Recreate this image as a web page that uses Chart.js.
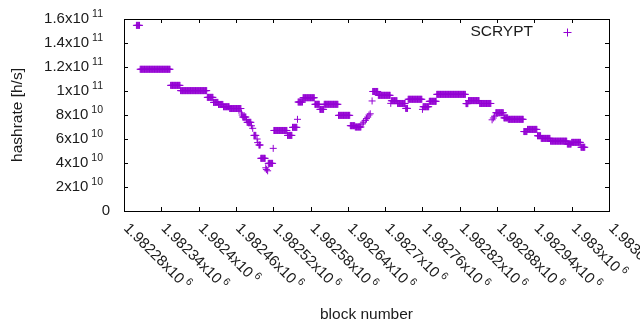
<!DOCTYPE html>
<html>
<head>
<meta charset="utf-8">
<script src="https://cdn.jsdelivr.net/npm/chart.js@4.4.1/dist/chart.umd.min.js"></script>
<style>
    html, body { margin: 0; padding: 0; background: #fff; }
    canvas { display: block; }
</style>
</head>
<body>
<canvas id="hashChart" width="640" height="330"></canvas>
<script>
// Runs of blocks with the same hashrate (block offsets from blockBase)
const blockBase = 1982280;
const runFirst = [20, 26, 75, 91, 134, 144, 152, 160, 170, 189, 190, 191, 197, 198, 205, 207, 209, 214, 215, 217,
    220, 228, 229, 231, 232, 240, 241, 263, 271, 279, 280, 288, 307, 315, 322, 345, 364, 372, 383, 385,
    388, 390, 392, 394, 396, 399, 400, 409, 429, 430, 440, 453, 457, 480, 481, 491, 503, 550, 554, 572,
    592, 594, 596, 598, 611, 618, 643, 649, 665, 671, 686, 713, 720, 735];
const runLast = [25, 74, 90, 133, 143, 151, 159, 169, 188, 189, 190, 196, 197, 204, 205, 207, 212, 214, 215, 219,
    227, 228, 229, 231, 239, 240, 262, 270, 278, 279, 287, 306, 314, 321, 344, 363, 371, 381, 383, 385,
    388, 390, 392, 394, 396, 399, 408, 428, 429, 439, 452, 456, 479, 480, 490, 502, 549, 553, 571, 590,
    592, 594, 596, 610, 617, 642, 648, 664, 670, 685, 712, 719, 734, 741];
// hashrate in units of 10^10 h/s
const runHashrate = [15.47, 11.81, 10.47, 10.03, 9.47, 9.05, 8.88, 8.69, 8.54, 8.17, 8.0, 7.83, 7.6, 7.39, 7.1, 6.89, 6.3, 6.0, 5.7, 5.5,
    4.39, 3.6, 3.45, 3.35, 3.97, 5.22, 6.71, 6.3, 6.97, 7.64, 9.08, 9.44, 8.89, 8.47, 8.89, 7.97, 7.11, 7.0, 7.25, 7.4,
    7.55, 7.7, 7.83, 8.0, 8.1, 9.17, 9.96, 9.64, 8.97, 9.19, 8.96, 8.55, 9.31, 8.47, 8.69, 9.14, 9.72, 8.95, 9.2, 8.96,
    7.6, 7.75, 7.9, 8.19, 7.76, 7.64, 6.62, 6.8, 6.27, 6.05, 5.82, 5.58, 5.72, 5.31];

const xTickValues = [1982280, 1982340, 1982400, 1982460, 1982520, 1982580, 1982640,
    1982700, 1982760, 1982820, 1982880, 1982940, 1983000, 1983060];
const yTickValues = [0, 2e10, 4e10, 6e10, 8e10, 1e11, 1.2e11, 1.4e11, 1.6e11];

const seriesName = 'SCRYPT';
const seriesColor = '#9400d3';
const fontFamily = '"Liberation Sans", Arial, sans-serif';

// one point per block
const points = [];
runFirst.forEach((first, i) => {
    for (let b = first; b <= runLast[i]; b++) {
        points.push({ x: blockBase + b, y: runHashrate[i] * 1e10 });
    }
});

// gnuplot style "1.98228x10^6" split into base and exponent
function sciParts(v) {
    if (v === 0) return ['0', ''];
    const exp = Math.floor(Math.log10(v) + 1e-9);
    const mant = parseFloat((v / Math.pow(10, exp)).toPrecision(6));
    return [mant + 'x10', String(exp)];
}

const frame = {
    id: 'gnuplotFrame',
    afterDatasetsDraw(chart) {
        const ctx = chart.ctx;
        const a = chart.chartArea;
        const xs = chart.scales.x, ys = chart.scales.y;
        ctx.save();
        ctx.strokeStyle = '#000';
        ctx.lineWidth = 1;
        ctx.beginPath();
        xTickValues.forEach(v => {
            const px = Math.round(xs.getPixelForValue(v)) + 0.5;
            ctx.moveTo(px, a.bottom); ctx.lineTo(px, a.bottom - 4);
            ctx.moveTo(px, a.top); ctx.lineTo(px, a.top + 4);
        });
        yTickValues.forEach(v => {
            const py = Math.round(ys.getPixelForValue(v)) + 0.5;
            ctx.moveTo(a.left, py); ctx.lineTo(a.left + 4, py);
            ctx.moveTo(a.right, py); ctx.lineTo(a.right - 4, py);
        });
        ctx.stroke();
        ctx.strokeRect(a.left + 0.5, a.top + 0.5, a.right - a.left, a.bottom - a.top);
        ctx.restore();
    },
    afterDraw(chart) {
        const ctx = chart.ctx;
        const a = chart.chartArea;
        const xs = chart.scales.x, ys = chart.scales.y;
        ctx.save();
        ctx.fillStyle = '#1a1a1a';

        // y tick labels
        yTickValues.forEach(v => {
            const py = ys.getPixelForValue(v);
            const [base, exp] = sciParts(v);
            ctx.textBaseline = 'middle';
            if (!exp) {
                ctx.font = '15px ' + fontFamily;
                ctx.textAlign = 'right';
                ctx.fillText(base, 110, py);
                return;
            }
            ctx.font = '10.5px ' + fontFamily;
            const supW = ctx.measureText(exp).width;
            ctx.textAlign = 'left';
            ctx.fillText(exp, 103 - supW, py - 5);
            ctx.font = '15px ' + fontFamily;
            ctx.textAlign = 'right';
            ctx.fillText(base, 103 - supW - 3, py);
        });

        // x tick labels, rotated down to the right
        xTickValues.forEach(v => {
            const px = xs.getPixelForValue(v);
            const [base, exp] = sciParts(v);
            ctx.save();
            ctx.translate(px + 2, a.bottom + 15);
            ctx.rotate(Math.PI / 4);
            ctx.textAlign = 'left';
            ctx.textBaseline = 'middle';
            ctx.font = '15px ' + fontFamily;
            ctx.fillText(base, 0, 0);
            const w = ctx.measureText(base).width;
            ctx.font = '10.5px ' + fontFamily;
            ctx.fillText(exp, w + 3, -5);
            ctx.restore();
        });

        // key, top right
        ctx.font = '15.5px ' + fontFamily;
        ctx.textAlign = 'right';
        ctx.textBaseline = 'middle';
        ctx.fillText(seriesName, 533, 32);
        ctx.strokeStyle = seriesColor;
        ctx.lineWidth = 1;
        ctx.beginPath();
        ctx.moveTo(563.5, 32.5); ctx.lineTo(571.5, 32.5);
        ctx.moveTo(567.5, 28.5); ctx.lineTo(567.5, 36.5);
        ctx.stroke();
        ctx.restore();
    }
};

new Chart(document.getElementById('hashChart'), {
    type: 'scatter',
    data: {
        datasets: [{
            label: seriesName,
            data: points,
            pointStyle: 'cross',
            pointRadius: 3.5,
            borderWidth: 1,
            borderColor: seriesColor,
            backgroundColor: seriesColor
        }]
    },
    options: {
        responsive: false,
        animation: false,
        devicePixelRatio: 1,
        events: [],
        layout: { padding: { top: 19, right: 31, left: 0, bottom: 0 } },
        plugins: {
            legend: { display: false },
            tooltip: { enabled: false }
        },
        scales: {
            x: {
                type: 'linear',
                min: xTickValues[0],
                max: xTickValues[xTickValues.length - 1],
                grid: { display: false },
                border: { display: false },
                ticks: { display: false },
                afterBuildTicks: s => { s.ticks = xTickValues.map(v => ({ value: v })); },
                afterFit: s => { s.height = 119; },
                title: {
                    display: true,
                    text: 'block number',
                    color: '#1a1a1a',
                    font: { family: fontFamily, size: 15.5 },
                    padding: { top: 0, bottom: 6 }
                }
            },
            y: {
                min: 0,
                max: yTickValues[yTickValues.length - 1],
                grid: { display: false },
                border: { display: false },
                ticks: { display: false },
                afterBuildTicks: s => { s.ticks = yTickValues.map(v => ({ value: v })); },
                afterFit: s => { s.width = 124; },
                title: {
                    display: true,
                    text: 'hashrate [h/s]',
                    color: '#1a1a1a',
                    font: { family: fontFamily, size: 15.5 },
                    padding: { top: 8, bottom: 0 }
                }
            }
        }
    },
    plugins: [frame]
});
</script>
</body>
</html>
